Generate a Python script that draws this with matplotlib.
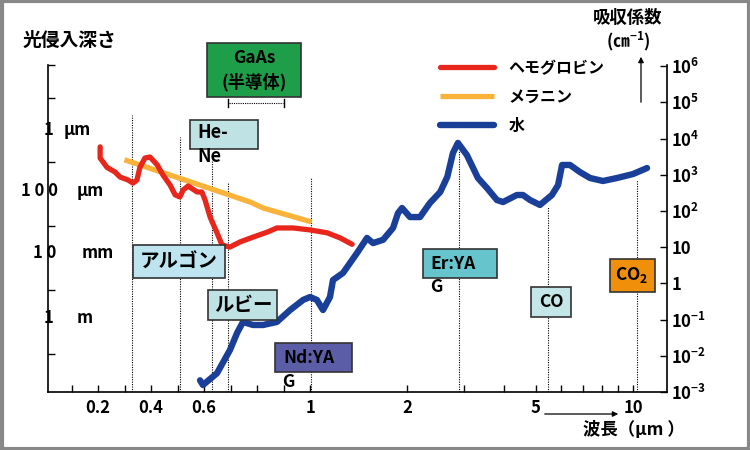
import numpy as np
import matplotlib
matplotlib.use('Agg')
import matplotlib.pyplot as plt
from matplotlib.patches import Rectangle, FancyArrowPatch
from matplotlib.lines import Line2D

plt.rcParams['font.family'] = ['Noto Sans CJK JP', 'DejaVu Sans']
plt.rcParams['font.weight'] = 'bold'
plt.rcParams['mathtext.fontset'] = 'custom'
plt.rcParams['mathtext.rm'] = 'Noto Sans CJK JP:bold'
plt.rcParams['mathtext.bf'] = 'Noto Sans CJK JP:bold'
plt.rcParams['mathtext.default'] = 'bf'

# absorption coefficient (cm^-1) vs wavelength (um)
hb_wl = [0.208, 0.208, 0.234, 0.264, 0.283, 0.313, 0.332, 0.347, 0.358, 0.377,
         0.396, 0.423, 0.445, 0.472, 0.491, 0.509, 0.521, 0.540, 0.574, 0.592,
         0.604, 0.623, 0.649, 0.668, 0.698, 0.736, 0.785, 0.838, 0.875, 0.936,
         1.0, 1.13, 1.24, 1.35]
hb_abs = [5900, 2900, 1600, 1200, 870, 720, 590, 720, 1600, 2900,
          3100, 1900, 990, 520, 280, 244, 380, 490, 335, 335,
          201, 68, 25, 11.5, 10.1, 14, 19, 26, 34, 34,
          30, 25, 18, 12]

mel_wl = [0.30, 0.585, 0.774, 0.823, 1.01]
mel_abs = [2600, 520, 177, 121, 50]

water_wl = [0.585, 0.596, 0.649, 0.698, 0.725, 0.747, 0.785, 0.823, 0.875, 0.925,
            0.974, 1.0, 1.05, 1.097, 1.153, 1.178, 1.265, 1.398, 1.501, 1.567,
            1.683, 1.807, 1.873, 1.927, 2.04, 2.19, 2.35, 2.53, 2.66, 2.77,
            2.87, 3.06, 3.31, 3.53, 3.79, 3.96, 4.37, 4.56, 4.80, 5.15,
            5.61, 5.86, 6.03, 6.38, 6.85, 7.36, 8.07, 8.92, 10.0, 11.05]
water_abs = [2.1e-3, 1.56e-3, 3.3e-3, 0.0145, 0.043, 0.086, 0.071, 0.071, 0.086, 0.184,
             0.35, 0.42, 0.35, 0.184, 0.42, 1.24, 1.94, 6.9, 18, 13,
             16, 34, 88, 121, 68, 68, 166, 335, 870, 4000,
             7600, 3500, 816, 432, 201, 177, 277, 277, 201, 147,
             277, 520, 1870, 1870, 1190, 816, 675, 816, 1050, 1540]

# laser lines (wavelength, top of dotted line)
laser_wl = [0.33, 0.51, 0.63, 0.69, 1.01, 2.9, 5.45, 10.3]
laser_top = [4.5e4, 1.1e4, 2.6e3, 590, 870, 4.8e3, 130, 720]

xticks = [0.1, 0.2, 0.3, 0.4, 0.5, 0.6, 0.7, 0.8, 0.9, 1, 2, 3, 4, 5, 6, 7, 8, 9, 10]
xlabels = {0.2: '0.2', 0.4: '0.4', 0.6: '0.6', 1: '1', 2: '2', 5: '5', 10: '10'}
yexp = [-3, -2, -1, 0, 1, 2, 3, 4, 5, 6]
ylabels = [r'$10^{-3}$', r'$10^{-2}$', r'$10^{-1}$', '1', '10',
           r'$10^{2}$', r'$10^{3}$', r'$10^{4}$', r'$10^{5}$', r'$10^{6}$']

depth_nums = ['1', '1 0 0', '1 0', '1']
depth_units = ['µm', 'µm', 'mm', 'm']

W, H = 750, 450
def fx(px):
    return px / W
def fy(py):
    return 1 - py / H

# linear below 1 um, log above (as drawn in the original)
K = 0.8204
def fwd(x):
    x = np.asarray(x, dtype=float)
    with np.errstate(divide='ignore', invalid='ignore'):
        lg = np.log10(np.where(x > 0, x, 1e-9))
    return np.where(x >= 1, lg, (x - 1) * K)
def inv(f):
    f = np.asarray(f, dtype=float)
    return np.where(f >= 0, 10 ** np.clip(f, -10, 10), 1 + f / K)

fig = plt.figure(figsize=(7.5, 4.5), dpi=100)
ax = fig.add_axes([fx(48), fy(392), fx(667) - fx(48), fy(65) - fy(392)])
ax.set_xscale('function', functions=(fwd, inv))
ax.set_yscale('log')
ax.set_xlim(0.0113, 12.74)
ax.set_ylim(1e-3, 1.08e6)

# left depth axis
ax2 = ax.twinx()
ax2.yaxis.tick_left()
ax2.set_ylim(0, 5.11)
ax2.set_yticks([0.594, 1.594, 2.594, 3.594, 4.594, 5.11], [''] * 6)
ax2.tick_params(axis='y', direction='in', length=5, width=1)
for s in ['top', 'right', 'bottom', 'left']:
    ax2.spines[s].set_visible(False)

ax.vlines(laser_wl, 1e-3, laser_top, colors='k', linestyles=(0, (1, 1.2)), lw=0.8, zorder=1)

l1, = ax.plot(hb_wl, hb_abs, color='#e8261c', lw=3.8, solid_capstyle='round', solid_joinstyle='round', zorder=3)
l2, = ax.plot(mel_wl, mel_abs, color='#f9b23a', lw=3.8, solid_capstyle='butt', zorder=2)
l3, = ax.plot(water_wl, water_abs, color='#1a3f98', lw=4.6, solid_capstyle='round', solid_joinstyle='round', zorder=3)

ax.set_xticks(xticks, [xlabels.get(t, '') for t in xticks])
ax.set_yticks([10.0 ** e for e in yexp], ylabels)
ax.yaxis.set_minor_locator(matplotlib.ticker.NullLocator())
ax.xaxis.set_minor_locator(matplotlib.ticker.NullLocator())
ax.yaxis.tick_right()
ax.tick_params(axis='both', direction='in', length=5, width=1, labelsize=12, color='k')
ax.tick_params(axis='x', pad=5)
ax.tick_params(axis='y', pad=3)
ax.spines['top'].set_visible(False)
for s in ['left', 'right', 'bottom']:
    ax.spines[s].set_linewidth(1.2)

depth_y = [130, 191, 253, 318]
num_x = [44, 21, 33, 44]
unit_x = [64, 77, 82, 77]
for n, u, y, xn, xu in zip(depth_nums, depth_units, depth_y, num_x, unit_x):
    fig.text(fx(xn), fy(y), n, fontsize=12, ha='left', va='center')
    fig.text(fx(xu), fy(y), u, fontsize=12, ha='left', va='center')

leg = ax.legend([l1, l2, l3], ['ヘモグロビン', 'メラニン', '水'], loc='upper left',
                bbox_to_anchor=(fx(440), fy(60)), bbox_transform=fig.transFigure,
                frameon=False, fontsize=11.5, handlelength=3.4, handletextpad=0.9,
                labelspacing=0.8, borderaxespad=0, borderpad=0)

# label boxes
boxes = [
    (207, 43, 301, 97, '#1e9e48'),
    (190, 120, 258, 149, '#bfe3e5'),
    (133, 245, 225, 278, '#bee5ef'),
    (208, 290, 277, 320, '#bfe3e5'),
    (275, 343, 352, 372, '#5b5ea6'),
    (423, 249, 497, 278, '#66c4cc'),
    (531, 287, 571, 317, '#c5e6e8'),
    (610, 259, 655, 292, '#f0900a'),
]
for x0, y0, x1, y1, c in boxes:
    fig.add_artist(Rectangle((fx(x0), fy(y1)), fx(x1) - fx(x0), fy(y0) - fy(y1),
                             transform=fig.transFigure, facecolor=c, edgecolor='#333333', lw=1.2, zorder=5))

txt = [
    ('GaAs', 254, 58, 'center', 12.5),
    ('(半導体)', 254, 82, 'center', 12.5),
    ('He-', 197, 133, 'left', 13),
    ('Ne', 197, 157, 'left', 13),
    ('アルゴン', 179, 262, 'center', 14),
    ('ルビー', 243, 305, 'center', 14),
    ('Nd:YA', 283, 358, 'left', 12.5),
    ('G', 282, 382, 'left', 12.5),
    ('Er:YA', 430, 264, 'left', 12.5),
    ('G', 430, 287, 'left', 12.5),
    ('CO', 551, 302, 'center', 12.5),
    (r'CO$_{2}$', 632, 275, 'center', 12.5),
]
for s, x, y, ha, fs in txt:
    fig.text(fx(x), fy(y), s, fontsize=fs, ha=ha, va='center', zorder=6)

# GaAs range bracket
fig.add_artist(Line2D([fx(229), fx(283)], [fy(103), fy(103)], color='k', lw=0.8, ls=(0, (1, 1))))
for xb in [228, 284]:
    fig.add_artist(Line2D([fx(xb), fx(xb)], [fy(99), fy(107)], color='k', lw=1))

fig.text(fx(23), fy(40), '光侵入深さ', fontsize=13.5, ha='left', va='center')
fig.text(fx(628), fy(18), '吸収係数', fontsize=12.5, ha='center', va='center')
fig.text(fx(628), fy(41), r'(㎝$^{-1}$)', fontsize=12, ha='center', va='center')
fig.text(fx(583), fy(430), '波長（μm ）', fontsize=12.5, ha='left', va='center')

fig.add_artist(FancyArrowPatch((fx(641), fy(105)), (fx(641), fy(54)), transform=fig.transFigure,
                               arrowstyle='-|>', mutation_scale=8, color='k', lw=0.9))
fig.add_artist(FancyArrowPatch((fx(542), fy(414)), (fx(621), fy(414)), transform=fig.transFigure,
                               arrowstyle='-|>', mutation_scale=8, color='k', lw=0.9))

# grey frame
fig.add_artist(Rectangle((0.002, 0.003), 0.996, 0.994, transform=fig.transFigure,
                         fill=False, edgecolor='#888888', lw=3))

fig.savefig('out.png', dpi=100)
